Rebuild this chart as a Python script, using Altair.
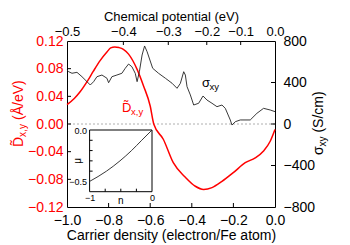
import json
import altair as alt
import pandas as pd

# ---------------- data ----------------
n_D = [-1.0, -0.965, -0.936, -0.902, -0.874, -0.840, -0.808, -0.790, -0.770, -0.750, -0.729,
       -0.704, -0.663, -0.632, -0.600, -0.583, -0.537, -0.489, -0.431, -0.383, -0.343,
       -0.303, -0.255, -0.199, -0.143, -0.095, -0.055, -0.023, 0.0]
D = [0.028, 0.037, 0.047, 0.062, 0.076, 0.092, 0.104, 0.110, 0.1115, 0.1105, 0.108,
     0.101, 0.079, 0.055, 0.026, 0.0, -0.022, -0.056, -0.077, -0.090, -0.0946,
     -0.092, -0.083, -0.070, -0.056, -0.049, -0.039, -0.025, -0.008]

n_s = [-1.0, -0.992, -0.976, -0.952, -0.928, -0.904, -0.888, -0.872, -0.856, -0.832, -0.808,
       -0.800, -0.784, -0.760, -0.736, -0.720, -0.704, -0.688, -0.672, -0.663, -0.652,
       -0.639, -0.627, -0.615, -0.588, -0.560, -0.527, -0.495, -0.471, -0.455, -0.439,
       -0.431, -0.423, -0.407, -0.391, -0.367, -0.346, -0.327, -0.303, -0.279, -0.255,
       -0.239, -0.215, -0.207, -0.191, -0.167, -0.119, -0.087, -0.055, -0.023, 0.0]
sigma = [521, 504, 489, 498, 456, 408, 376, 408, 456, 472, 441,
         398, 456, 472, 489, 537, 578, 552, 489, 408, 504,
         665, 752, 697, 537, 489, 441, 393, 344, 392, 504,
         472, 360, 280, 183, 200, 270, 231, 200, 167, 183,
         151, 39, -10, 22, 39, 39, 103, 151, 135, 119]

# chemical potential mu(n) (top axis and inset)
n_mu = [-1.0, -0.729, -0.513, -0.328, -0.165, 0.0]
mu = [-0.5, -0.4, -0.3, -0.2, -0.1, 0.0]
mu_labels = ["\u22120.5", "\u22120.4", "\u22120.3", "\u22120.2", "\u22120.1", "0.0"]

D_ticks = [-0.08, -0.04, 0.0, 0.04, 0.08]
s_ticks = [-400, 0, 400]
n_ticks = [-0.8, -0.6, -0.4, -0.2]
inset_n_ticks = [-0.75, -0.5, -0.25]
inset_mu_ticks = [-0.4, -0.3, -0.2, -0.1]

# ---------------- layout ----------------
W, H = 208, 166
RED = "#ff0000"
FONT = "Liberation Sans"
FS = 14
IX0, IX1 = 22.6, 85.0      # inset box (px, relative to plot)
IY0, IY1 = 89.0, 150.7

dfD = pd.DataFrame({"n": n_D, "D": D})
dfS = pd.DataFrame({"n": n_s, "s": sigma})
dfM = pd.DataFrame({"n": n_mu, "mu": mu})

xs = alt.Scale(domain=[-1, 0], nice=False)
yD = alt.Scale(domain=[-0.12, 0.12], nice=False)
yS = alt.Scale(domain=[-800, 800], nice=False)
xi = alt.Scale(domain=[-1, 0], range=[IX0, IX1], nice=False)
yi = alt.Scale(domain=[-0.6, 0], range=[IY1, IY0], nice=False)

base_axis = dict(ticks=False, domain=False, grid=False, labelFont=FONT, labelFontSize=FS,
                 labelFlush=False, labelOverlap=False,
                 titleFont=FONT, titleFontSize=FS, titleFontWeight="normal", titleColor="black")

zero = alt.Chart(pd.DataFrame({"v": [0.0]})).mark_rule(
    color="#999999", strokeDash=[2, 2], strokeWidth=0.8
).encode(y=alt.Y("v:Q", scale=yD, axis=None))

red = alt.Chart(dfD).mark_line(color=RED, strokeWidth=1.5, interpolate="monotone").encode(
    x=alt.X("n:Q", scale=xs, axis=alt.Axis(orient="bottom", values=[-1, -0.8, -0.6, -0.4, -0.2, 0],
            format=".1f", labelPadding=6, title="Carrier density (electron/Fe atom)",
            titlePadding=1, **base_axis)),
    y=alt.Y("D:Q", scale=yD, axis=alt.Axis(orient="left", values=[-0.12, -0.08, -0.04, 0, 0.04, 0.08, 0.12],
            format=".2f", labelColor=RED, labelPadding=4, title=None, **base_axis)),
)

black = alt.Chart(dfS).mark_line(color="#222222", strokeWidth=0.9).encode(
    x=alt.X("n:Q", scale=xs, axis=None),
    y=alt.Y("s:Q", scale=yS, axis=alt.Axis(orient="right", values=[-800, -400, 0, 400, 800],
            format="d", labelPadding=8, title=None, **base_axis)),
)

label_expr = "[{}][indexof([{}], datum.value)]".format(
    ",".join(json.dumps(s) for s in mu_labels), ",".join(str(v) for v in n_mu))
top_axis = dict(base_axis)
top_axis["titleFontSize"] = 13
top_axis["labelFontSize"] = 13
top = alt.Chart(dfM).mark_point(opacity=0).encode(
    x=alt.X("n:Q", scale=xs, axis=alt.Axis(orient="top", values=n_mu, labelExpr=label_expr,
            labelPadding=3, title="Chemical potential (eV)", titlePadding=2, **top_axis)),
)

# inward ticks of the main frame
tL = alt.Chart(pd.DataFrame({"v": D_ticks})).mark_rule(color="black").encode(
    y=alt.Y("v:Q", scale=yD, axis=None), x=alt.value(0), x2=alt.value(4))
tR = alt.Chart(pd.DataFrame({"v": s_ticks})).mark_rule(color="black").encode(
    y=alt.Y("v:Q", scale=yS, axis=None), x=alt.value(W), x2=alt.value(W - 4))
tB = alt.Chart(pd.DataFrame({"v": n_ticks})).mark_rule(color="black").encode(
    x=alt.X("v:Q", scale=xs, axis=None), y=alt.value(H), y2=alt.value(H - 4))
tT = alt.Chart(pd.DataFrame({"v": n_mu[1:-1]})).mark_rule(color="black").encode(
    x=alt.X("v:Q", scale=xs, axis=None), y=alt.value(0), y2=alt.value(4))

# inset
inset_axis = dict(ticks=False, domain=False, grid=False, labelFont=FONT, labelFontSize=9,
                  labelFlush=False, title=None)
box = alt.Chart(pd.DataFrame({"a": [-1.0], "b": [0.0], "c": [-0.6], "d": [0.0]})).mark_rect(
    fill="white", stroke="black", strokeWidth=1).encode(
    x=alt.X("a:Q", scale=xi, axis=alt.Axis(orient="bottom", values=[-1, 0], format="d",
            offset=-(H - IY1), labelPadding=2, **inset_axis)),
    x2="b:Q",
    y=alt.Y("c:Q", scale=yi, axis=alt.Axis(orient="left", values=[-0.5, 0], format=".1f",
            offset=-IX0, labelPadding=3, **inset_axis)),
    y2="d:Q",
)
inset_line = alt.Chart(dfM).mark_line(color="#222222", strokeWidth=0.9, interpolate="monotone").encode(
    x=alt.X("n:Q", scale=xi, axis=None), y=alt.Y("mu:Q", scale=yi, axis=None))
itB = alt.Chart(pd.DataFrame({"v": inset_n_ticks})).mark_rule(color="black").encode(
    x=alt.X("v:Q", scale=xi, axis=None), y=alt.value(IY1), y2=alt.value(IY1 - 3))
itL = alt.Chart(pd.DataFrame({"v": inset_mu_ticks})).mark_rule(color="black").encode(
    y=alt.Y("v:Q", scale=yi, axis=None), x=alt.value(IX0), x2=alt.value(IX0 + 3))

def txt(s, x, y, size=FS, color="black", angle=0, align="left", baseline="alphabetic"):
    return alt.Chart(pd.DataFrame({"t": [s]})).mark_text(
        font=FONT, fontSize=size, color=color, angle=angle, align=align, baseline=baseline
    ).encode(text="t:N", x=alt.value(x), y=alt.value(y))

texts = [
    # inset titles
    txt("n", (IX0 + IX1) / 2, 163, size=10, align="center"),
    txt("\u03bc", IX0 - 9, (IY0 + IY1) / 2, size=10, angle=270, align="center"),
    # in-plot labels
    txt("D\u0303", 55, 71, size=13, color=RED),
    txt("x,y", 64, 74, size=9.5, color=RED),
    txt("\u03c3", 135, 46, size=13),
    txt("xy", 142.5, 49, size=9.5),
    # left title (rotated, reads bottom to top)
    txt("D\u0303", -44, 106, color=RED, angle=270),
    txt("x,y", -41, 95.9, size=10, color=RED, angle=270),
    txt("(\u00c5/eV)", -44, 79, color=RED, angle=270),
    # right title (rotated)
    txt("\u03c3", 256, 114, angle=270),
    txt("xy", 259, 105.6, size=10, angle=270),
    txt("(S/cm)", 256, 91.6, angle=270),
]

chart = alt.layer(zero, red, black, top, tL, tR, tB, tT, box, inset_line, itB, itL, *texts).resolve_scale(
    x="independent", y="independent"
).resolve_axis(x="independent", y="independent").properties(
    width=W, height=H,
    autosize=alt.AutoSizeParams(type="none"),
    padding={"left": 59, "top": 33, "right": 67, "bottom": 37},
).configure_view(stroke="black", strokeWidth=1)

chart.save("out.html", embed_options={"renderer": "svg", "actions": False})
